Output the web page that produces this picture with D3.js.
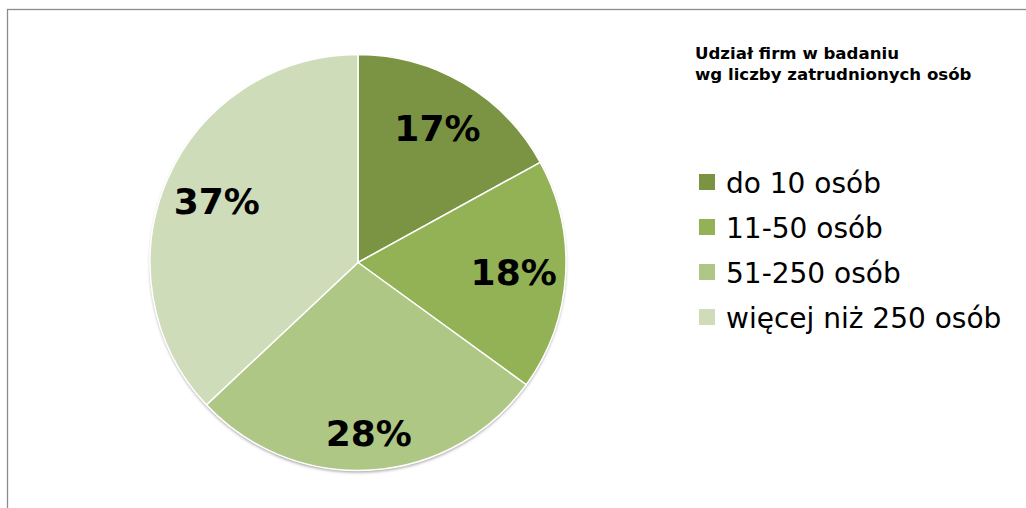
<!DOCTYPE html>
<html>
<head>
<meta charset="utf-8">
<script src="https://cdn.jsdelivr.net/npm/d3@7"></script>
<style>
  html, body { margin: 0; padding: 0; background: #ffffff; }
  svg { display: block; }
</style>
</head>
<body>
<svg id="chart" width="1026" height="508"></svg>
<script>
// Udział firm w badaniu według liczby zatrudnionych osób
const categories = ["do 10 osób", "11-50 osób", "51-250 osób", "więcej niż 250 osób"];
const shares = [17, 18, 28, 37];
const sliceColors = ["#7a9444", "#93b155", "#aec785", "#cfdcba"];
const titleLines = ["Udział firm w badaniu", "wg liczby zatrudnionych osób"];

const W = 1026, H = 508;
const cx = 358, cy = 262.5, R = 208;
// how far out each percentage label sits, as a fraction of the radius
const labelRadiusFactor = [0.75, 0.75, 0.82, 0.74];

const svg = d3.select("#chart");

// soft shadow under the pie
const defs = svg.append("defs");
const f = defs.append("filter").attr("id", "pieShadow")
  .attr("x", "-10%").attr("y", "-10%").attr("width", "120%").attr("height", "120%");
f.append("feDropShadow").attr("dx", 0).attr("dy", 2).attr("stdDeviation", 1.6)
  .attr("flood-color", "#000").attr("flood-opacity", 0.35);

// outer frame
svg.append("rect")
  .attr("x", 7.5).attr("y", 9.5)
  .attr("width", W + 20).attr("height", H + 20)
  .attr("fill", "none").attr("stroke", "#8c8c8c").attr("stroke-width", 1.3);

const pie = d3.pie().sort(null).value(d => d)
  .startAngle(0).endAngle(2 * Math.PI);
const arcs = pie(shares);
const arc = d3.arc().innerRadius(0).outerRadius(R);
const color = d3.scaleOrdinal().domain(categories).range(sliceColors);

const g = svg.append("g").attr("transform", `translate(${cx},${cy})`);

g.append("circle").attr("r", R).attr("fill", "#ffffff")
  .attr("filter", "url(#pieShadow)");

g.selectAll("path.slice")
  .data(arcs)
  .join("path")
  .attr("class", "slice")
  .attr("d", arc)
  .attr("fill", (d, i) => color(categories[i]))
  .attr("stroke", "#ffffff")
  .attr("stroke-width", 1.5)
  .attr("stroke-linejoin", "round");

// percentage labels
g.selectAll("text.pct")
  .data(arcs)
  .join("text")
  .attr("class", "pct")
  .attr("transform", (d, i) => {
    const r = R * labelRadiusFactor[i];
    const a = (d.startAngle + d.endAngle) / 2;
    return `translate(${r * Math.sin(a)},${-r * Math.cos(a)})`;
  })
  .attr("text-anchor", "middle")
  .attr("dy", "0.36em")
  .attr("font-family", "'DejaVu Sans', Verdana, sans-serif")
  .attr("font-weight", "bold")
  .attr("font-size", 36)
  .attr("fill", "#000")
  .text(d => d.data + "%");

// title
svg.append("text")
  .attr("x", 695).attr("y", 59)
  .attr("font-family", "'DejaVu Sans', Verdana, sans-serif")
  .attr("font-weight", "bold")
  .attr("font-size", 16.6)
  .attr("fill", "#000")
  .selectAll("tspan")
  .data(titleLines)
  .join("tspan")
  .attr("x", 695)
  .attr("dy", (d, i) => i === 0 ? 0 : 21)
  .text(d => d);

// legend
const legendY = d3.scaleBand().domain(categories).range([163, 343]);
const legend = svg.append("g");
const items = legend.selectAll("g.item")
  .data(categories)
  .join("g")
  .attr("class", "item")
  .attr("transform", d => `translate(699,${legendY(d)})`);

items.append("rect")
  .attr("x", 0).attr("y", 11)
  .attr("width", 16).attr("height", 16)
  .attr("fill", d => color(d));

items.append("text")
  .attr("x", 27).attr("y", 30)
  .attr("font-family", "'DejaVu Sans', Verdana, sans-serif")
  .attr("font-size", 28)
  .attr("fill", "#000")
  .text(d => d);
</script>
</body>
</html>
